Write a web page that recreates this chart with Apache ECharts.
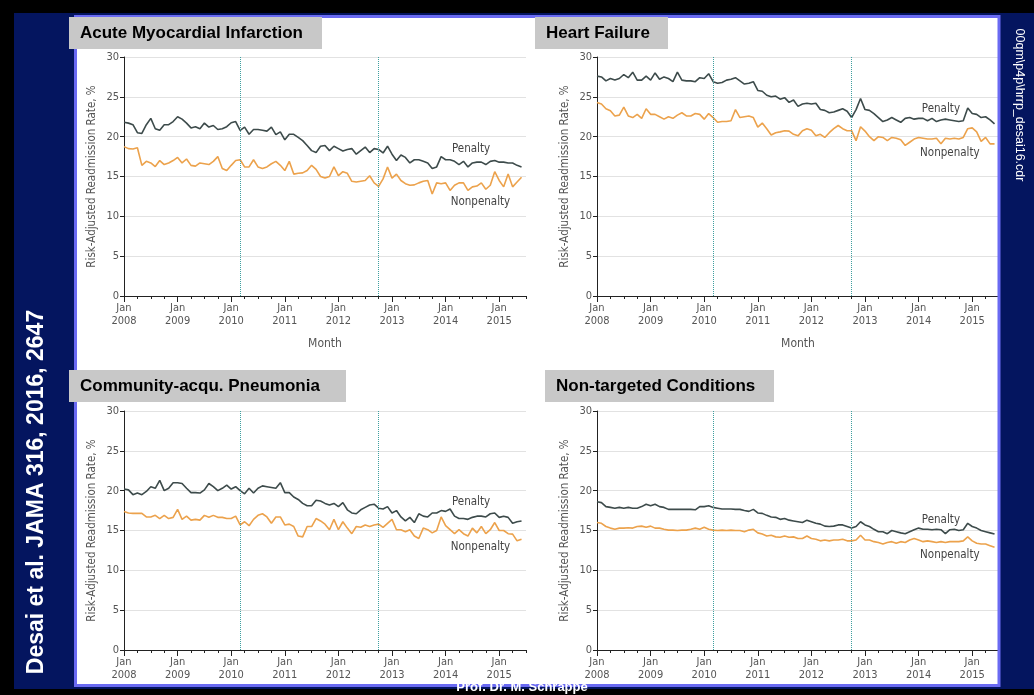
<!DOCTYPE html>
<html>
<head>
<meta charset="utf-8">
<title>Desai et al. JAMA 2016</title>
<script src="https://cdn.jsdelivr.net/npm/echarts@6/dist/echarts.min.js"></script>
</head>
<body style="margin:0;padding:0;background:#000">
<div id="main" style="width:1034px;height:695px;"></div>
<script type="text/javascript">
// monthly values, Jan 2008 - Jun 2015 (index 0 = Jan 2008)
var years = ['2008', '2009', '2010', '2011', '2012', '2013', '2014', '2015'];
var policyMonths = [26, 57]; // Mar 2010, Oct 2012

var amiPenalty = [
    21.8, 21.7, 21.5, 20.5, 20.4, 21.5, 22.3, 21.0, 20.8, 21.5, 21.5, 21.9,
    22.5, 22.2, 21.7, 21.1, 21.25, 21.0, 21.7, 21.2, 21.4, 20.9, 21.0, 21.25,
    21.75, 21.9, 20.8, 21.2, 20.3, 20.9, 20.9, 20.8, 20.7, 21.2, 20.25, 20.6,
    19.6, 20.3, 20.3, 19.9, 19.5, 18.9, 18.25, 18.0, 18.8, 18.9, 18.25, 18.8,
    18.5, 18.2, 18.4, 18.5, 17.8, 18.25, 18.7, 18.0, 18.5, 18.4, 17.95, 18.8,
    17.8, 17.0, 17.7, 17.4, 16.7, 17.1, 17.1, 16.9, 16.7, 16.0, 16.2, 17.5,
    17.1, 17.1, 16.9, 16.5, 16.9, 16.2, 16.7, 16.8, 16.8, 16.5, 16.9, 17.0,
    16.8, 16.8, 16.7, 16.7, 16.4, 16.2
];
var amiNonpenalty = [
    18.75, 18.5, 18.45, 18.6, 16.4, 16.9, 16.7, 16.25, 17.0, 16.5, 16.7, 17.0,
    17.4, 16.7, 17.2, 16.4, 16.3, 16.7, 16.6, 16.5, 16.9, 17.5, 16.0, 15.75,
    16.4, 17.0, 17.1, 16.2, 16.2, 17.1, 16.2, 16.0, 16.2, 16.6, 16.9, 16.4,
    15.75, 16.9, 15.3, 15.4, 15.45, 15.75, 16.4, 15.9, 15.0, 14.8, 15.0, 16.2,
    15.1, 15.6, 15.4, 14.4, 14.3, 14.4, 14.5, 15.1, 14.2, 13.75, 14.7, 16.2,
    14.8, 15.3, 14.5, 14.1, 13.9, 13.95, 14.2, 14.4, 14.5, 12.8, 14.2, 14.1,
    14.2, 13.25, 13.9, 14.2, 14.2, 13.25, 13.7, 13.8, 14.2, 13.4, 13.9, 15.6,
    14.5, 13.7, 15.3, 13.7, 14.3, 14.9
];
var hfPenalty = [
    27.6, 27.5, 27.0, 27.3, 27.1, 27.3, 27.8, 27.4, 28.1, 27.1, 27.1, 27.6,
    27.1, 28.0, 27.2, 27.5, 27.3, 26.9, 28.1, 27.1, 27.0, 27.0, 26.9, 27.4,
    27.3, 27.9, 26.9, 26.7, 26.8, 27.1, 27.2, 27.4, 27.0, 26.6, 26.7, 26.9,
    25.8, 25.7, 25.2, 25.0, 25.1, 24.7, 24.9, 24.3, 24.6, 23.8, 24.1, 24.2,
    24.1, 24.2, 23.4, 23.3, 23.0, 23.1, 23.3, 23.5, 23.2, 22.4, 23.4, 24.8,
    23.4, 23.3, 22.9, 22.4, 21.9, 22.1, 22.4, 22.1, 21.8, 22.3, 22.4, 22.2,
    22.3, 22.3, 22.0, 22.3, 21.9, 22.1, 22.2, 22.1, 22.0, 21.9, 22.0, 23.6,
    22.9, 22.8, 22.4, 22.5, 22.1, 21.6
];
var hfNonpenalty = [
    24.3, 24.1, 23.5, 23.25, 22.6, 22.7, 23.7, 22.6, 22.4, 22.8, 22.3, 23.5,
    22.8, 22.8, 22.5, 22.2, 22.5, 22.3, 22.7, 23.0, 22.6, 22.6, 22.9, 22.8,
    22.2, 22.9, 22.4, 21.8, 21.9, 21.9, 22.0, 23.4, 22.4, 22.5, 22.6, 22.4,
    21.2, 21.7, 21.0, 20.2, 20.5, 20.6, 20.75, 20.7, 20.3, 20.1, 20.75, 21.0,
    20.8, 20.1, 20.3, 19.9, 20.5, 21.0, 21.4, 21.0, 20.75, 20.75, 19.5, 21.25,
    20.7, 20.0, 19.5, 20.0, 19.9, 19.5, 19.9, 19.8, 19.6, 18.9, 19.3, 19.7,
    19.9, 19.8, 19.7, 19.7, 19.8, 19.1, 19.8, 19.7, 19.8, 19.7, 19.9, 21.0,
    21.1, 20.6, 19.4, 19.9, 19.1, 19.1
];
var capPenalty = [
    20.2, 20.1, 19.5, 19.7, 19.5, 19.9, 20.5, 20.3, 21.3, 20.0, 20.3, 21.0,
    21.0, 20.9, 20.3, 19.75, 19.75, 19.7, 20.1, 20.9, 20.5, 20.0, 20.3, 20.7,
    20.2, 20.5, 20.0, 19.6, 20.3, 19.7, 20.3, 20.6, 20.5, 20.4, 20.3, 21.0,
    19.75, 19.75, 19.2, 18.9, 18.4, 18.1, 18.1, 18.8, 18.7, 18.4, 18.2, 18.4,
    18.0, 18.5, 17.6, 17.2, 17.1, 17.6, 17.9, 18.2, 18.3, 17.8, 17.7, 18.0,
    17.2, 17.5, 16.7, 16.2, 16.65, 16.0, 17.1, 16.8, 16.7, 17.2, 17.2, 17.5,
    17.4, 17.7, 16.8, 16.5, 16.5, 16.4, 16.65, 16.8, 16.8, 16.7, 17.1, 17.2,
    16.65, 16.8, 16.65, 15.9, 16.1, 16.2
];
var capNonpenalty = [
    17.4, 17.2, 17.15, 17.15, 17.15, 16.7, 16.7, 16.9, 16.5, 16.9, 16.5, 16.65,
    17.65, 16.4, 16.8, 16.3, 16.4, 16.3, 16.9, 16.65, 16.9, 16.65, 16.65, 16.5,
    16.5, 16.8, 15.7, 16.1, 15.6, 16.4, 16.9, 17.1, 16.7, 15.9, 16.7, 16.7,
    15.7, 15.8, 15.5, 14.3, 14.2, 15.5, 15.5, 16.5, 16.2, 15.8, 15.1, 16.4,
    15.1, 16.1, 15.3, 14.6, 15.5, 15.4, 15.7, 15.5, 15.7, 15.8, 15.4, 15.9,
    16.4, 15.1, 15.1, 14.85, 15.1, 14.3, 14.0, 15.3, 15.1, 14.7, 15.0, 16.7,
    15.6, 15.1, 14.6, 15.1, 14.6, 14.3, 15.3, 14.7, 15.5, 14.6, 15.1, 16.0,
    15.0, 15.0, 14.6, 14.55, 13.7, 13.9
];
var ntPenalty = [
    18.6, 18.5, 18.0, 17.9, 17.8, 17.9, 17.8, 17.9, 17.8, 17.8, 18.0, 18.3,
    18.1, 18.3, 18.0, 17.9, 17.65, 17.65, 17.65, 17.65, 17.65, 17.65, 17.6, 18.0,
    18.0, 18.1, 17.9, 17.8, 17.7, 17.7, 17.7, 17.65, 17.65, 17.5, 17.4, 17.65,
    17.2, 17.15, 16.9, 16.7, 16.65, 16.4, 16.5, 16.3, 16.2, 16.1, 16.0, 16.3,
    16.1, 15.9, 15.8, 15.55, 15.5, 15.55, 15.7, 15.7, 15.5, 15.3, 15.5, 16.1,
    15.7, 15.5, 15.15, 14.85, 14.85, 14.6, 15.0, 14.85, 14.7, 14.6, 14.85, 15.1,
    15.3, 15.15, 15.15, 15.1, 15.15, 15.1, 14.6, 15.1, 15.15, 15.0, 15.1, 15.9,
    15.5, 15.3, 15.0, 14.85, 14.7, 14.55
];
var ntNonpenalty = [
    16.0, 15.9, 15.5, 15.3, 15.15, 15.3, 15.3, 15.35, 15.3, 15.5, 15.55, 15.4,
    15.55, 15.3, 15.3, 15.15, 15.05, 15.05, 15.0, 15.05, 15.05, 15.15, 15.3, 15.15,
    15.4, 15.15, 15.05, 15.0, 15.05, 15.0, 15.05, 15.0, 15.0, 14.85, 15.05, 15.15,
    14.7, 14.55, 14.3, 14.4, 14.2, 14.15, 14.3, 14.15, 14.2, 14.0, 14.0, 14.3,
    14.0, 13.9, 13.7, 13.8, 13.7, 13.8, 13.8, 13.9, 13.7, 13.7, 13.8, 14.4,
    13.8, 13.8, 13.6, 13.5, 13.3, 13.5, 13.6, 13.4, 13.6, 13.5, 13.8, 14.0,
    13.8, 13.6, 13.7, 13.6, 13.5, 13.6, 13.5, 13.6, 13.6, 13.6, 13.7, 14.2,
    13.7, 13.4, 13.3, 13.3, 13.1, 12.9
];

var font = "'DejaVu Sans Condensed','Liberation Sans Narrow','Arial Narrow',sans-serif";
var penaltyColor = '#3d4b4b';
var nonpenaltyColor = '#eca24c';

var panels = [
    { title: 'Acute Myocardial Infarction', box: [69, 17, 253], left: 124, top: 57, month: true,
      pen: amiPenalty, non: amiNonpenalty, penLabel: [77.7, 18.5], nonLabel: [79.8, 11.75] },
    { title: 'Heart Failure', box: [535, 17, 133], left: 597, top: 57, month: true,
      pen: hfPenalty, non: hfNonpenalty, penLabel: [77, 23.5], nonLabel: [79, 18.0] },
    { title: 'Community-acqu. Pneumonia', box: [69, 370, 277], left: 124, top: 411, month: false,
      pen: capPenalty, non: capNonpenalty, penLabel: [77.7, 18.6], nonLabel: [79.8, 12.9] },
    { title: 'Non-targeted Conditions', box: [545, 370, 229], left: 597, top: 411, month: false,
      pen: ntPenalty, non: ntNonpenalty, penLabel: [77, 16.3], nonLabel: [79, 11.9] }
];

function pairs(arr) {
    return arr.map(function (v, i) { return [i, v]; });
}

var grid = [], xAxis = [], yAxis = [], series = [];
var graphic = [
    { type: 'rect', z: -20, shape: { x: 0, y: 0, width: 1034, height: 695 }, style: { fill: '#04155f' } },
    { type: 'rect', z: -19, shape: { x: 0, y: 0, width: 1034, height: 13 }, style: { fill: '#000' } },
    { type: 'rect', z: -19, shape: { x: 0, y: 0, width: 14, height: 695 }, style: { fill: '#000' } },
    { type: 'rect', z: -19, shape: { x: 0, y: 689, width: 1034, height: 6 }, style: { fill: '#000' } },
    { type: 'rect', z: -18, shape: { x: 75.5, y: 16.5, width: 923.5, height: 669 }, style: { fill: '#fff' } },
    { type: 'rect', z: 50, shape: { x: 75.5, y: 16.5, width: 923.5, height: 669 },
      style: { fill: 'none', stroke: '#6a6af2', lineWidth: 3 } },
    { type: 'text', z: 60, x: 37, y: 492, rotation: Math.PI / 2,
      style: { text: 'Desai et al. JAMA 316, 2016, 2647', fill: '#fff', font: 'bold 23px "Liberation Sans", Arial, sans-serif',
               align: 'center', verticalAlign: 'middle' } },
    { type: 'text', z: 60, x: 1019, y: 105, rotation: -Math.PI / 2,
      style: { text: '00qm\\p4p\\hrrp_desai16.cdr', fill: '#fff', font: '12.5px "Liberation Sans", Arial, sans-serif',
               align: 'center', verticalAlign: 'middle' } },
    { type: 'text', z: 60, x: 522, y: 687,
      style: { text: 'Prof. Dr. M. Schrappe', fill: '#fff', font: 'bold 13px "Liberation Sans", Arial, sans-serif',
               align: 'center', verticalAlign: 'middle' } }
];

panels.forEach(function (p, i) {
    grid.push({ left: p.left, top: p.top, width: 402, height: 239 });

    xAxis.push({
        type: 'value', gridIndex: i, min: 0, max: 90, interval: 3, position: 'bottom',
        axisLine: { show: true, onZero: false, lineStyle: { color: '#222', width: 1 } },
        axisTick: { show: true, length: 3, lineStyle: { color: '#222' } },
        axisLabel: {
            margin: 6, color: '#555', fontSize: 11, lineHeight: 13, fontFamily: font,
            formatter: function (v) { return v % 12 === 0 ? 'Jan\n' + years[v / 12] : ''; }
        },
        splitLine: { show: false },
        name: p.month ? 'Month' : '', nameLocation: 'middle', nameGap: 42,
        nameTextStyle: { color: '#555', fontSize: 12, fontFamily: font }
    });
    // longer ticks at January
    xAxis.push({
        type: 'value', gridIndex: i, min: 0, max: 90, interval: 12, position: 'bottom',
        axisLine: { show: false },
        axisTick: { show: true, length: 6, customValues: [0, 12, 24, 36, 48, 60, 72, 84], lineStyle: { color: '#222' } },
        axisLabel: { show: false },
        splitLine: { show: false }
    });

    yAxis.push({
        type: 'value', gridIndex: i, min: 0, max: 30, interval: 5,
        axisLine: { show: true, lineStyle: { color: '#222', width: 1 } },
        axisTick: { show: true, length: 4, lineStyle: { color: '#222' } },
        axisLabel: { margin: 5, color: '#555', fontSize: 11, fontFamily: font },
        splitLine: { show: true, lineStyle: { color: '#e2e2e2', width: 1 } },
        name: 'Risk-Adjusted Readmission Rate, %', nameLocation: 'middle', nameGap: 26,
        nameTextStyle: { color: '#555', fontSize: 11.5, fontFamily: font }
    });

    var labelStyle = { show: true, position: 'inside', formatter: '{b}', color: '#444', fontSize: 11.5, fontFamily: font };

    series.push({
        name: 'Penalty', type: 'line', xAxisIndex: i * 2, yAxisIndex: i,
        data: pairs(p.pen), symbol: 'none', animation: false,
        lineStyle: { color: penaltyColor, width: 1.6 }, itemStyle: { color: penaltyColor },
        markLine: {
            silent: true, symbol: 'none', animation: false, label: { show: false },
            lineStyle: { type: 'dotted', color: '#3e9f9f', width: 1 },
            data: policyMonths.map(function (m) { return { xAxis: m }; })
        },
        markPoint: {
            symbol: 'circle', symbolSize: 1, itemStyle: { color: 'rgba(0,0,0,0)' }, label: labelStyle,
            data: [{ name: 'Penalty', coord: p.penLabel }]
        }
    });
    series.push({
        name: 'Nonpenalty', type: 'line', xAxisIndex: i * 2, yAxisIndex: i,
        data: pairs(p.non), symbol: 'none', animation: false,
        lineStyle: { color: nonpenaltyColor, width: 1.6 }, itemStyle: { color: nonpenaltyColor },
        markPoint: {
            symbol: 'circle', symbolSize: 1, itemStyle: { color: 'rgba(0,0,0,0)' }, label: labelStyle,
            data: [{ name: 'Nonpenalty', coord: p.nonLabel }]
        }
    });

    graphic.push({ type: 'rect', z: 55, shape: { x: p.box[0], y: p.box[1], width: p.box[2], height: 32 }, style: { fill: '#c8c8c8' } });
    graphic.push({ type: 'text', z: 56, x: p.box[0] + 11, y: p.box[1] + 16,
        style: { text: p.title, fill: '#000', font: 'bold 17px "Liberation Sans", Arial, sans-serif', verticalAlign: 'middle' } });
});

var myChart = echarts.init(document.getElementById('main'));
var option = {
    backgroundColor: '#04155f',
    animation: false,
    grid: grid,
    xAxis: xAxis,
    yAxis: yAxis,
    series: series,
    graphic: graphic
};
myChart.setOption(option);
</script>
</body>
</html>
